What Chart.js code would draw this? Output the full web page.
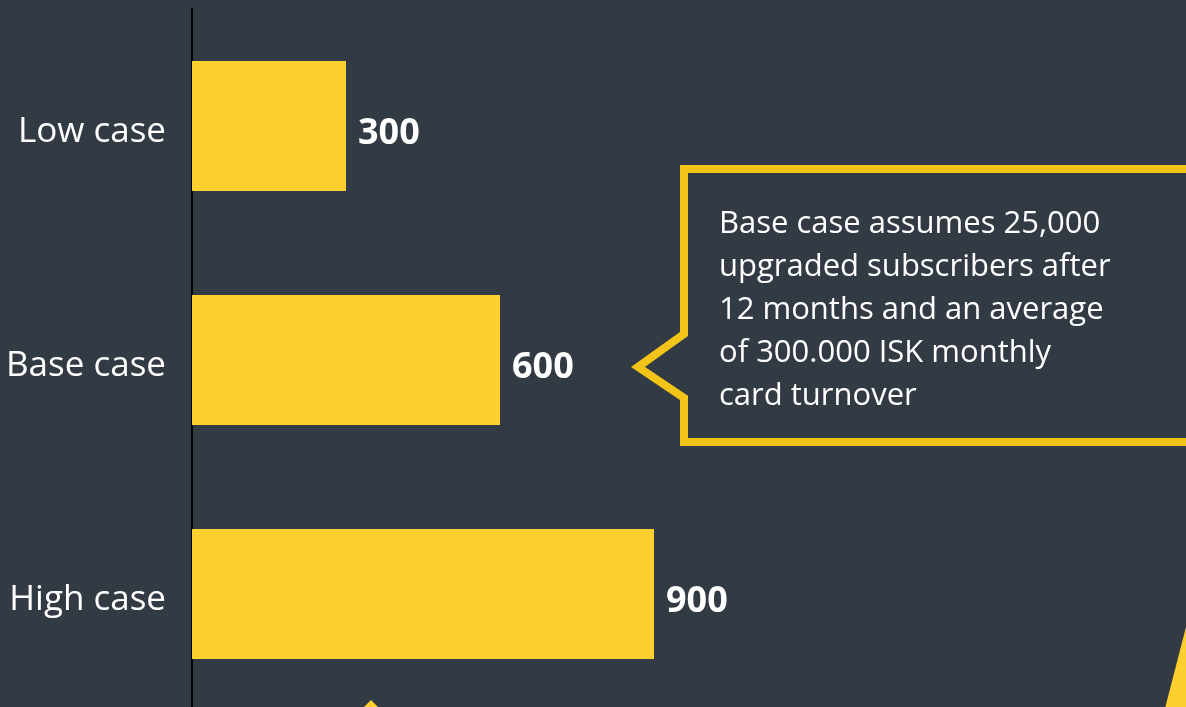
<!DOCTYPE html>
<html lang="en">
<head>
<meta charset="UTF-8" />
<title>Scenarios</title>
<script src="https://cdn.jsdelivr.net/npm/chart.js@4.4.1/dist/chart.umd.min.js"></script>
<style>
  html, body { margin:0; padding:0; background:#323A44; overflow:hidden; }
  #wrap { width:1186px; height:720px; position:relative; }
</style>
</head>
<body>
<div id="wrap"><canvas id="cases"></canvas></div>
<script>
// chart data
const caseLabels = ['Low case', 'Base case', 'High case'];
const caseValues = [300, 600, 900];
const noteLines = [
  'Base case assumes 25,000',
  'upgraded subscribers after',
  '12 months and an average',
  'of 300.000 ISK monthly',
  'card turnover'
];

const BAR_YELLOW = '#FDD030';
const LINE_YELLOW = '#F2C318';
const FONT = '"Open Sans", "Noto Sans", sans-serif';

// value labels at the end of each bar
const valueLabels = {
  id: 'valueLabels',
  afterDatasetsDraw(chart) {
    const ctx = chart.ctx;
    const meta = chart.getDatasetMeta(0);
    ctx.save();
    ctx.fillStyle = '#FFFFFF';
    ctx.font = 'bold 36px ' + FONT;
    ctx.textBaseline = 'middle';
    ctx.textAlign = 'left';
    meta.data.forEach((bar, i) => {
      ctx.fillText(String(caseValues[i]), bar.x + 12, bar.y + 8);
    });
    ctx.restore();
  }
};

// callout box + decorative shapes
const callout = {
  id: 'callout',
  afterDraw(chart) {
    const ctx = chart.ctx;
    ctx.save();
    // speech box
    ctx.strokeStyle = LINE_YELLOW;
    ctx.lineWidth = 8;
    ctx.lineJoin = 'miter';
    ctx.beginPath();
    ctx.moveTo(684, 334);
    ctx.lineTo(684, 169);
    ctx.lineTo(1200, 169);
    ctx.lineTo(1200, 442);
    ctx.lineTo(684, 442);
    ctx.lineTo(684, 398);
    ctx.lineTo(638, 367);
    ctx.closePath();
    ctx.stroke();

    ctx.fillStyle = '#FFFFFF';
    ctx.font = '31px ' + FONT;
    ctx.textBaseline = 'alphabetic';
    ctx.textAlign = 'left';
    noteLines.forEach((t, i) => ctx.fillText(t, 719, 233 + i * 43));

    // bits of other shapes peeking in at the bottom
    ctx.fillStyle = BAR_YELLOW;
    ctx.beginPath();
    ctx.moveTo(371, 700);
    ctx.lineTo(380, 709);
    ctx.lineTo(362, 709);
    ctx.closePath();
    ctx.fill();

    ctx.beginPath();
    ctx.moveTo(1186, 627);
    ctx.lineTo(1200, 627);
    ctx.lineTo(1200, 720);
    ctx.lineTo(1162, 720);
    ctx.closePath();
    ctx.fill();
    ctx.restore();
  }
};

new Chart(document.getElementById('cases'), {
  type: 'bar',
  data: {
    labels: caseLabels,
    datasets: [{
      data: caseValues,
      backgroundColor: BAR_YELLOW,
      borderWidth: 0,
      barPercentage: 0.556,
      categoryPercentage: 1
    }]
  },
  options: {
    indexAxis: 'y',
    responsive: true,
    maintainAspectRatio: false,
    animation: false,
    layout: { padding: { top: 9, bottom: 9, right: 224, left: 0 } },
    plugins: { legend: { display: false }, tooltip: { enabled: false } },
    scales: {
      x: {
        display: false,
        min: 0,
        max: 1500
      },
      y: {
        grid: { display: false, drawTicks: false },
        border: { display: true, color: '#000000', width: 2 },
        ticks: {
          color: '#FFFFFF',
          padding: 26,
          labelOffset: 6,
          font: { family: FONT, size: 35 }
        },
        afterFit(scale) {
          scale.width = 192;
          scale.paddingTop = 0;
          scale.paddingBottom = 0;
        }
      }
    }
  },
  plugins: [valueLabels, callout]
});
</script>
</body>
</html>
